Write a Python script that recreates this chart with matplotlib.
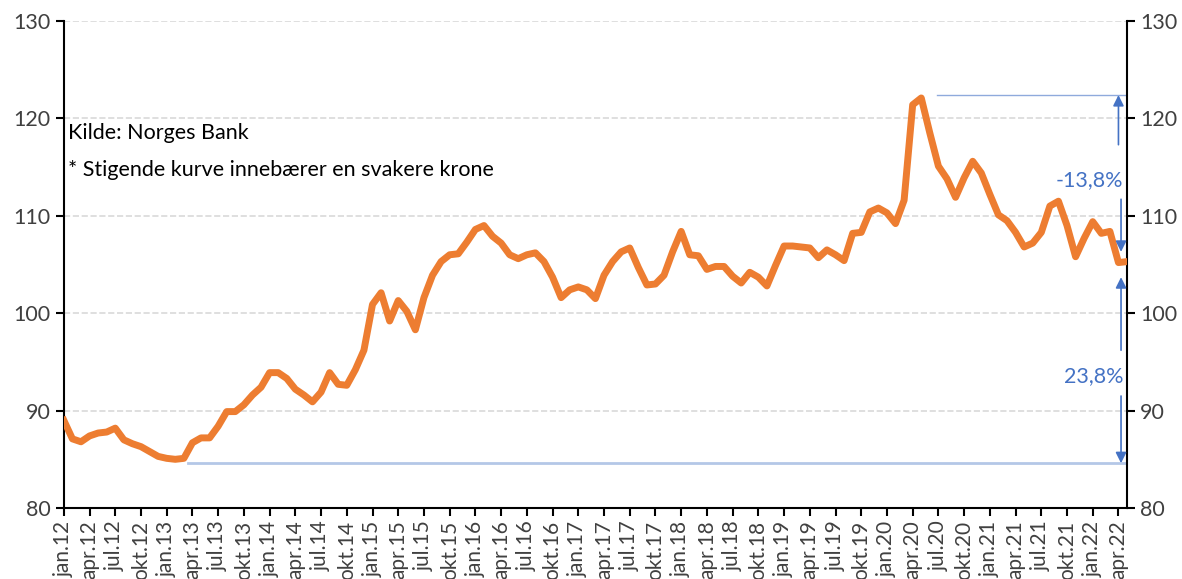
import matplotlib
matplotlib.use("Agg")
import matplotlib.pyplot as plt
import numpy as np

plt.rcParams['font.family'] = ['Lato', 'DejaVu Sans']

# monthly index, jan.12 - mai.22
verdier = [
    89.0, 87.1, 86.8, 87.4, 87.7, 87.8, 88.2, 87.0, 86.6, 86.3, 85.8, 85.3,
    85.1, 85.0, 85.1, 86.7, 87.2, 87.2, 88.4, 89.9, 89.9, 90.6, 91.6, 92.4,
    93.9, 93.9, 93.3, 92.2, 91.6, 90.9, 91.9, 93.9, 92.7, 92.6, 94.2, 96.2,
    100.9, 102.1, 99.2, 101.3, 100.2, 98.3, 101.6, 103.9, 105.3, 106.0, 106.1, 107.3,
    108.6, 109.0, 107.9, 107.2, 106.0, 105.6, 106.0, 106.2, 105.3, 103.7, 101.6, 102.4,
    102.7, 102.4, 101.5, 103.9, 105.3, 106.3, 106.7, 104.7, 102.9, 103.0, 103.9, 106.3,
    108.4, 106.0, 105.9, 104.5, 104.8, 104.8, 103.8, 103.1, 104.2, 103.7, 102.8, 104.9,
    106.9, 106.9, 106.8, 106.7, 105.7, 106.5, 106.0, 105.4, 108.2, 108.3, 110.4, 110.8,
    110.3, 109.2, 111.6, 121.4, 122.1, 118.5, 115.1, 113.8, 111.9, 113.9, 115.6, 114.4,
    112.2, 110.1, 109.5, 108.3, 106.8, 107.2, 108.3, 111.0, 111.5, 109.0, 105.8, 107.7,
    109.4, 108.2, 108.4, 105.2, 105.3,
]
maaneder = ['jan', 'apr', 'jul', 'okt']
aar = list(range(12, 23))
etiketter = [f'{m}.{a}' for a in aar for m in maaneder][:42]

topp_niva = 122.4
bunn_niva = 84.6
endring_topp = '-13,8%'
endring_bunn = '23,8%'

oransje = '#ED7D31'
blaa = '#4472C4'
lysblaa = '#B4C7E7'
tekstfarge = '#404040'

fig = plt.figure(figsize=(11.82, 5.79), dpi=100)
ax = fig.add_axes([0.054, 0.1226, 0.8995, 0.8411])

x = np.arange(len(verdier))
ax.plot(x, verdier, color=oransje, lw=5, solid_joinstyle='round', zorder=3)

# reference lines
ax.plot([14.5, len(verdier) - 1], [bunn_niva, bunn_niva], color=lysblaa, lw=2, zorder=2)
ax.plot([101.8, len(verdier) - 1], [topp_niva, topp_niva], color='#8FAADC', lw=1, zorder=2)

pil = dict(arrowstyle='-|>', color=blaa, lw=1.2, mutation_scale=16, shrinkA=0, shrinkB=0)
ax.annotate('', xy=(123.0, topp_niva), xytext=(123.0, 117.3), arrowprops=pil)
ax.annotate('', xy=(123.3, 106.3), xytext=(123.3, 111.7), arrowprops=pil)
ax.annotate('', xy=(123.3, 103.7), xytext=(123.3, 96.2), arrowprops=pil)
ax.annotate('', xy=(123.3, bunn_niva), xytext=(123.3, 91.5), arrowprops=pil)
ax.text(123.6, 113.7, endring_topp, color=blaa, fontsize=15.5, ha='right', va='center')
ax.text(123.6, 93.5, endring_bunn, color=blaa, fontsize=15.5, ha='right', va='center')

ax.text(0.5, 118.5, 'Kilde: Norges Bank', fontsize=15.5, color='black', va='center')
ax.text(0.5, 114.7, '* Stigende kurve innebærer en svakere krone', fontsize=15.5,
        color='black', va='center')

ax.set_xlim(0, len(verdier) - 1)
ax.set_ylim(80, 130)
ax.set_yticks(range(80, 131, 10))
ax.set_xticks(np.arange(0, 124, 3))
ax.set_xticklabels(etiketter, rotation=90, fontsize=15, color=tekstfarge)
ax.tick_params(axis='y', labelsize=15.5, colors=tekstfarge, right=True, labelright=True,
               length=6, width=1.5, direction='out')
ax.tick_params(axis='x', length=6, width=1.5, direction='out', pad=3)
for t in ax.get_yticklabels() + ax.get_xticklabels():
    t.set_color(tekstfarge)
ax.tick_params(axis='both', color='black')

ax.grid(axis='y', color='#D9D9D9', ls='--', lw=1.2)
ax.spines['top'].set_visible(False)
for s in ['left', 'right', 'bottom']:
    ax.spines[s].set_linewidth(1.5)

fig.savefig('out.png', dpi=100)
